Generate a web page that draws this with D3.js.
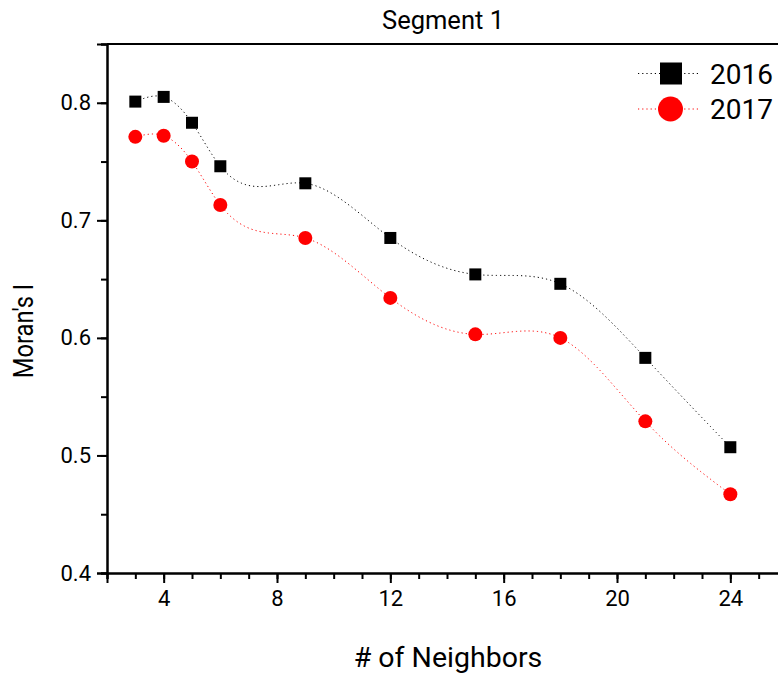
<!DOCTYPE html>
<html><head><meta charset="utf-8">
<script src="https://cdn.jsdelivr.net/npm/d3@7"></script>
<style>body{margin:0;background:#fff}svg{display:block;font-family:Roboto,"Liberation Sans",sans-serif}</style>
</head><body>
<svg id="c" width="778" height="673"></svg>
<script>
const neighbors = [3, 4, 5, 6, 9, 12, 15, 18, 21, 24];
const values2016 = [0.801, 0.805, 0.783, 0.746, 0.7315, 0.685, 0.654, 0.646, 0.583, 0.507];
const values2017 = [0.771, 0.772, 0.750, 0.713, 0.685, 0.634, 0.603, 0.600, 0.529, 0.467];
const xTicks = [4, 8, 12, 16, 20, 24];
const yTicks = [0.4, 0.5, 0.6, 0.7, 0.8];
const seriesNames = ["2016", "2017"];

const svg = d3.select("#c");
const L = 107, R = 787, T = 44, B = 573;
const x = d3.scaleLinear().domain([2, 26]).range([L, R]);
const y = d3.scaleLinear().domain([0.4, 0.85]).range([B, T]);

// natural cubic spline y(x) through the data points (for the connecting curve)
function naturalSpline(xs, ys) {
  const n = xs.length - 1;
  const h = d3.range(n).map(i => xs[i + 1] - xs[i]);
  const a = new Array(n + 1).fill(0), b = new Array(n + 1).fill(0), c = new Array(n + 1).fill(0), d = new Array(n + 1).fill(0);
  b[0] = 1; b[n] = 1;
  for (let i = 1; i < n; i++) {
    a[i] = h[i - 1]; b[i] = 2 * (h[i - 1] + h[i]); c[i] = h[i];
    d[i] = 6 * ((ys[i + 1] - ys[i]) / h[i] - (ys[i] - ys[i - 1]) / h[i - 1]);
  }
  for (let i = 1; i <= n; i++) { const m = a[i] / b[i - 1]; b[i] -= m * c[i - 1]; d[i] -= m * d[i - 1]; }
  const M = new Array(n + 1).fill(0);
  M[n] = d[n] / b[n];
  for (let i = n - 1; i >= 0; i--) M[i] = (d[i] - c[i] * M[i + 1]) / b[i];
  return function (t) {
    let i = Math.min(n - 1, Math.max(0, d3.bisectRight(xs, t) - 1));
    const hi = h[i], A = xs[i + 1] - t, Bv = t - xs[i];
    return M[i] * A * A * A / (6 * hi) + M[i + 1] * Bv * Bv * Bv / (6 * hi)
      + (ys[i] / hi - M[i] * hi / 6) * A + (ys[i + 1] / hi - M[i + 1] * hi / 6) * Bv;
  };
}

// frame
svg.append("line").attr("x1", L).attr("x2", R).attr("y1", T).attr("y2", T).attr("stroke", "#000").attr("stroke-width", 2);
svg.append("line").attr("x1", R).attr("x2", R).attr("y1", T).attr("y2", B).attr("stroke", "#000").attr("stroke-width", 2);

// x axis
const gx = svg.append("g").attr("transform", `translate(0,${B})`);
gx.call(d3.axisBottom(x).tickValues(d3.range(2, 27, 1)).tickSize(6).tickFormat(""));
gx.append("g").call(d3.axisBottom(x).tickValues(xTicks).tickSize(10).tickPadding(7).tickFormat(d3.format("d")));
gx.selectAll("path").attr("stroke-width", 2);
gx.selectAll("line").attr("stroke-width", 2);
gx.selectAll("text").attr("font-size", 22).attr("fill", "#000").attr("font-family", "Roboto");

// y axis
const gy = svg.append("g").attr("transform", `translate(${L},0)`);
gy.call(d3.axisLeft(y).tickValues(d3.range(0.4, 0.851, 0.05)).tickSize(6).tickFormat(""));
gy.append("g").call(d3.axisLeft(y).tickValues(yTicks).tickSize(10).tickPadding(6).tickFormat(d3.format(".1f")));
gy.selectAll("path").attr("stroke-width", 2);
gy.selectAll("line").attr("stroke-width", 2);
gy.selectAll("text").attr("font-size", 22).attr("fill", "#000").attr("font-family", "Roboto");

// titles
svg.append("text").attr("x", 443).attr("y", 29).attr("text-anchor", "middle").attr("font-size", 25.5).text("Segment 1");
svg.append("text").attr("x", 448).attr("y", 667).attr("text-anchor", "middle").attr("font-size", 28.5).text("# of Neighbors");
svg.append("text").attr("transform", "translate(32.5,331) rotate(-90) scale(0.88,1)").attr("text-anchor", "middle").attr("font-size", 27).text("Moran's I");

const series = [
  {name: seriesNames[0], vals: values2016, color: "#000", shape: "square"},
  {name: seriesNames[1], vals: values2017, color: "#ff0000", shape: "circle"}
];
const line = d3.line().x(d => x(d[0])).y(d => y(d[1]));

series.forEach(s => {
  const pts = neighbors.map((n, i) => [n, s.vals[i]]);
  const sp = naturalSpline(neighbors, s.vals);
  const xMin = neighbors[0], xMax = neighbors[neighbors.length - 1];
  const curvePts = d3.range(0, 421).map(k => { const t = xMin + (xMax - xMin) * k / 420; return [t, sp(t)]; });
  svg.append("path").attr("d", line(curvePts)).attr("fill", "none").attr("stroke", s.color)
    .attr("stroke-width", 1).attr("stroke-dasharray", "1.2,3");
  pts.forEach(p => {
    if (s.shape === "square") {
      svg.append("rect").attr("x", x(p[0]) - 6).attr("y", y(p[1]) - 6).attr("width", 12).attr("height", 12).attr("fill", s.color);
    } else {
      svg.append("circle").attr("cx", x(p[0])).attr("cy", y(p[1])).attr("r", 7).attr("fill", s.color);
    }
  });
});

// legend
series.forEach((s, i) => {
  const cy = 73.5 + i * 35.5;
  svg.append("line").attr("x1", 638).attr("x2", 700).attr("y1", cy).attr("y2", cy).attr("stroke", s.color).attr("stroke-width", 1).attr("stroke-dasharray", "1.2,3");
  if (s.shape === "square") svg.append("rect").attr("x", 660).attr("y", cy - 11).attr("width", 22).attr("height", 22).attr("fill", s.color);
  else svg.append("circle").attr("cx", 670.5).attr("cy", cy).attr("r", 12.5).attr("fill", s.color);
  svg.append("text").attr("x", 710).attr("y", cy + 10).attr("font-size", 28).text(s.name);
});
</script>
</body></html>
